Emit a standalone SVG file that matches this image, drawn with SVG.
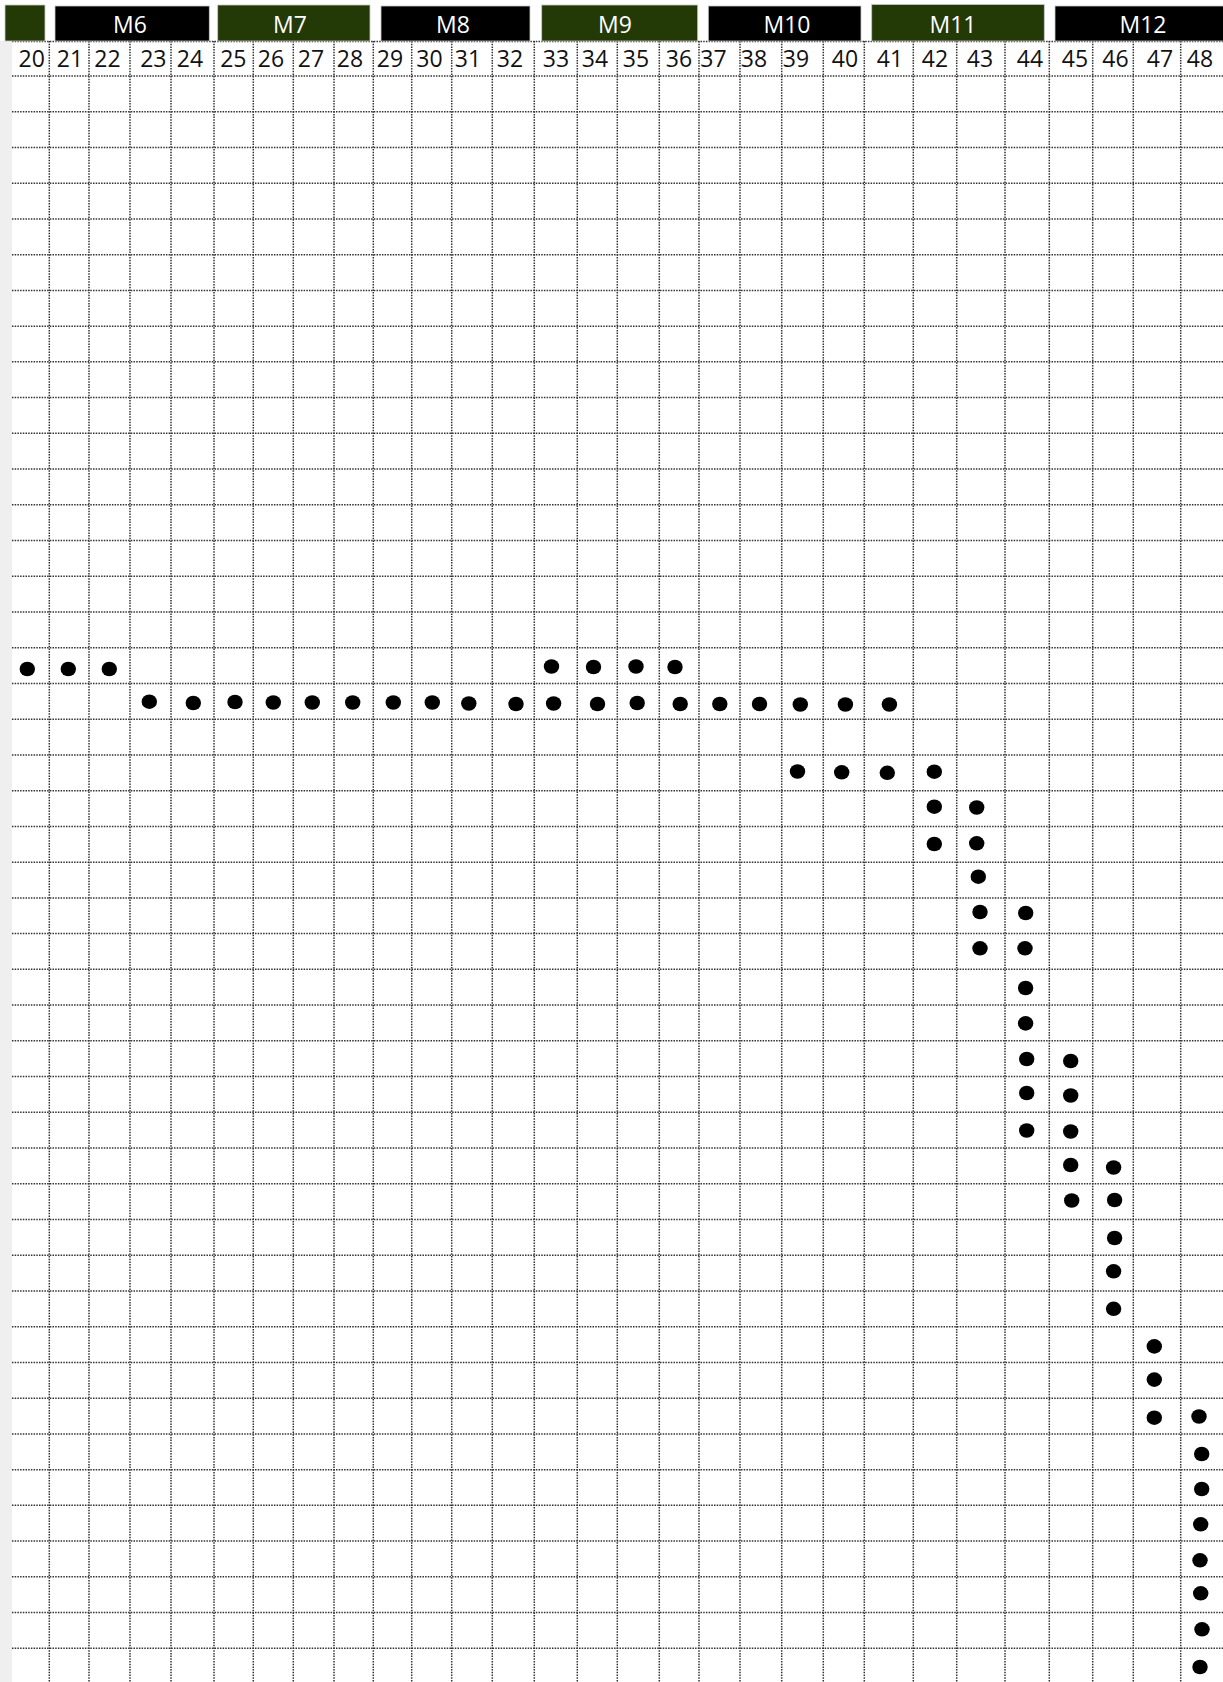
<svg xmlns="http://www.w3.org/2000/svg" width="1223" height="1682" viewBox="0 0 1223 1682">
<style>
.bg{fill:#ffffff}
.strip{fill:#efefef}
.black{fill:#000000}
.green{fill:#243a06}
.bar{stroke:#c8c8c8;stroke-width:0.8}
.mlabel{font-family:"Open Sans","DejaVu Sans",sans-serif;font-size:23px;fill:#ffffff;text-anchor:middle}
.num{font-family:"Open Sans","DejaVu Sans",sans-serif;font-size:23px;fill:#111111;text-anchor:middle}
.grid{fill:none;stroke:#333333;stroke-width:1.5;stroke-dasharray:1.5 1.2}
.dot{fill:#000000}
</style>
<rect class="bg" x="0" y="0" width="1223" height="1682"/>
<rect class="strip" x="0" y="41" width="12" height="1641"/>

<g id="grid">
<path class="grid" d="M12 41.5H1223 M12 76H1223 M12 111.73H1223 M12 147.47H1223 M12 183.2H1223 M12 218.94H1223 M12 254.67H1223 M12 290.4H1223 M12 326.14H1223 M12 361.87H1223 M12 397.61H1223 M12 433.34H1223 M12 469.07H1223 M12 504.81H1223 M12 540.54H1223 M12 576.28H1223 M12 612.01H1223 M12 647.74H1223 M12 683.48H1223 M12 719.21H1223 M12 754.95H1223 M12 790.68H1223 M12 826.41H1223 M12 862.15H1223 M12 897.88H1223 M12 933.62H1223 M12 969.35H1223 M12 1005.08H1223 M12 1040.82H1223 M12 1076.55H1223 M12 1112.29H1223 M12 1148.02H1223 M12 1183.75H1223 M12 1219.49H1223 M12 1255.22H1223 M12 1290.96H1223 M12 1326.69H1223 M12 1362.42H1223 M12 1398.16H1223 M12 1433.89H1223 M12 1469.63H1223 M12 1505.36H1223 M12 1541.09H1223 M12 1576.83H1223 M12 1612.56H1223 M12 1648.3H1223"/>
<path class="grid" d="M49.3 41V1682 M89 41V1682 M130 41V1682 M171 41V1682 M214 41V1682 M253.3 41V1682 M293.3 41V1682 M334 41V1682 M373.3 41V1682 M411.7 41V1682 M451.7 41V1682 M492.3 41V1682 M534.3 41V1682 M577.3 41V1682 M617.3 41V1682 M659.3 41V1682 M699 41V1682 M740 41V1682 M781.7 41V1682 M823.3 41V1682 M864.3 41V1682 M913.3 41V1682 M956.7 41V1682 M1005 41V1682 M1049.3 41V1682 M1092.7 41V1682 M1133.3 41V1682 M1180.7 41V1682"/>
</g>

<g id="header">
<g id="m5"><rect class="green bar" x="5" y="5" width="40" height="36"/></g>
<g id="m6"><rect class="black bar" x="55" y="6" width="154.3" height="35"/><text class="mlabel" x="130" y="33">M6</text></g>
<g id="m7"><rect class="green bar" x="217.7" y="5" width="152.3" height="36"/><text class="mlabel" x="290" y="33">M7</text></g>
<g id="m8"><rect class="black bar" x="381" y="6" width="149" height="35"/><text class="mlabel" x="453" y="33">M8</text></g>
<g id="m9"><rect class="green bar" x="541.7" y="5" width="156" height="36"/><text class="mlabel" x="615" y="33">M9</text></g>
<g id="m10"><rect class="black bar" x="708.3" y="6" width="152.7" height="35"/><text class="mlabel" x="787" y="33">M10</text></g>
<g id="m11"><rect class="green bar" x="871.7" y="4.5" width="172.6" height="36.5"/><text class="mlabel" x="953" y="33">M11</text></g>
<g id="m12"><rect class="black bar" x="1055" y="6" width="170" height="35"/><text class="mlabel" x="1143" y="33">M12</text></g>
</g>

<g id="numbers">
<text class="num" x="31.7" y="66.5">20</text>
<text class="num" x="70" y="66.5">21</text>
<text class="num" x="107.5" y="66.5">22</text>
<text class="num" x="153.3" y="66.5">23</text>
<text class="num" x="190" y="66.5">24</text>
<text class="num" x="233.3" y="66.5">25</text>
<text class="num" x="271" y="66.5">26</text>
<text class="num" x="311" y="66.5">27</text>
<text class="num" x="350" y="66.5">28</text>
<text class="num" x="390" y="66.5">29</text>
<text class="num" x="429.5" y="66.5">30</text>
<text class="num" x="468" y="66.5">31</text>
<text class="num" x="510" y="66.5">32</text>
<text class="num" x="556" y="66.5">33</text>
<text class="num" x="595" y="66.5">34</text>
<text class="num" x="636" y="66.5">35</text>
<text class="num" x="679" y="66.5">36</text>
<text class="num" x="713.5" y="66.5">37</text>
<text class="num" x="754" y="66.5">38</text>
<text class="num" x="796" y="66.5">39</text>
<text class="num" x="845" y="66.5">40</text>
<text class="num" x="890" y="66.5">41</text>
<text class="num" x="935" y="66.5">42</text>
<text class="num" x="980" y="66.5">43</text>
<text class="num" x="1030" y="66.5">44</text>
<text class="num" x="1075" y="66.5">45</text>
<text class="num" x="1115.5" y="66.5">46</text>
<text class="num" x="1160" y="66.5">47</text>
<text class="num" x="1200" y="66.5">48</text>
</g>

<g id="dots">
<ellipse class="dot" cx="27.3" cy="669" rx="7.7" ry="7.3"/>
<ellipse class="dot" cx="68.3" cy="669" rx="7.7" ry="7.3"/>
<ellipse class="dot" cx="109.3" cy="669" rx="7.7" ry="7.3"/>
<ellipse class="dot" cx="551.5" cy="666.5" rx="7.7" ry="7.3"/>
<ellipse class="dot" cx="593.5" cy="667" rx="7.7" ry="7.3"/>
<ellipse class="dot" cx="636" cy="666.5" rx="7.7" ry="7.3"/>
<ellipse class="dot" cx="675" cy="667" rx="7.7" ry="7.3"/>

<ellipse class="dot" cx="149.3" cy="701.7" rx="7.7" ry="7.3"/>
<ellipse class="dot" cx="193.3" cy="703" rx="7.7" ry="7.3"/>
<ellipse class="dot" cx="235" cy="702" rx="7.7" ry="7.3"/>
<ellipse class="dot" cx="273.3" cy="702.5" rx="7.7" ry="7.3"/>
<ellipse class="dot" cx="312.3" cy="702.5" rx="7.7" ry="7.3"/>
<ellipse class="dot" cx="352.7" cy="702.5" rx="7.7" ry="7.3"/>
<ellipse class="dot" cx="393.3" cy="702.5" rx="7.7" ry="7.3"/>
<ellipse class="dot" cx="432.3" cy="702.5" rx="7.7" ry="7.3"/>
<ellipse class="dot" cx="468.8" cy="703.5" rx="7.7" ry="7.3"/>
<ellipse class="dot" cx="516" cy="704" rx="7.7" ry="7.3"/>
<ellipse class="dot" cx="553.6" cy="703.5" rx="7.7" ry="7.3"/>
<ellipse class="dot" cx="597.5" cy="704" rx="7.7" ry="7.3"/>
<ellipse class="dot" cx="637.2" cy="703" rx="7.7" ry="7.3"/>
<ellipse class="dot" cx="680.2" cy="704" rx="7.7" ry="7.3"/>
<ellipse class="dot" cx="719.8" cy="704" rx="7.7" ry="7.3"/>
<ellipse class="dot" cx="759.5" cy="704" rx="7.7" ry="7.3"/>
<ellipse class="dot" cx="800.3" cy="704.5" rx="7.7" ry="7.3"/>
<ellipse class="dot" cx="845.4" cy="704.5" rx="7.7" ry="7.3"/>
<ellipse class="dot" cx="889.4" cy="704.5" rx="7.7" ry="7.3"/>

<ellipse class="dot" cx="797.5" cy="771.5" rx="7.7" ry="7.3"/>
<ellipse class="dot" cx="841.7" cy="772.3" rx="7.7" ry="7.3"/>
<ellipse class="dot" cx="887.3" cy="772.8" rx="7.7" ry="7.3"/>
<ellipse class="dot" cx="934.3" cy="771.7" rx="7.7" ry="7.3"/>

<ellipse class="dot" cx="934.3" cy="806.7" rx="7.7" ry="7.3"/>
<ellipse class="dot" cx="976.7" cy="807.5" rx="7.7" ry="7.3"/>
<ellipse class="dot" cx="934.3" cy="844" rx="7.7" ry="7.3"/>
<ellipse class="dot" cx="976.7" cy="843.3" rx="7.7" ry="7.3"/>
<ellipse class="dot" cx="978.3" cy="876.7" rx="7.7" ry="7.3"/>
<ellipse class="dot" cx="980" cy="912" rx="7.7" ry="7.3"/>
<ellipse class="dot" cx="1025.7" cy="913" rx="7.7" ry="7.3"/>
<ellipse class="dot" cx="980" cy="948.3" rx="7.7" ry="7.3"/>
<ellipse class="dot" cx="1025" cy="948.3" rx="7.7" ry="7.3"/>

<ellipse class="dot" cx="1025.6" cy="988" rx="7.7" ry="7.3"/>
<ellipse class="dot" cx="1025.6" cy="1023.4" rx="7.7" ry="7.3"/>
<ellipse class="dot" cx="1026.7" cy="1059" rx="7.7" ry="7.3"/>
<ellipse class="dot" cx="1070.7" cy="1061" rx="7.7" ry="7.3"/>
<ellipse class="dot" cx="1026.7" cy="1093" rx="7.7" ry="7.3"/>
<ellipse class="dot" cx="1070.7" cy="1095.5" rx="7.7" ry="7.3"/>
<ellipse class="dot" cx="1026.7" cy="1130.5" rx="7.7" ry="7.3"/>
<ellipse class="dot" cx="1070.7" cy="1131.5" rx="7.7" ry="7.3"/>
<ellipse class="dot" cx="1070.7" cy="1165" rx="7.7" ry="7.3"/>
<ellipse class="dot" cx="1113.6" cy="1167.5" rx="7.7" ry="7.3"/>
<ellipse class="dot" cx="1071.7" cy="1200.5" rx="7.7" ry="7.3"/>
<ellipse class="dot" cx="1114.6" cy="1200" rx="7.7" ry="7.3"/>
<ellipse class="dot" cx="1114.6" cy="1238" rx="7.7" ry="7.3"/>
<ellipse class="dot" cx="1113.6" cy="1271.3" rx="7.7" ry="7.3"/>
<ellipse class="dot" cx="1113.6" cy="1308.8" rx="7.7" ry="7.3"/>

<ellipse class="dot" cx="1154.3" cy="1346.4" rx="7.7" ry="7.3"/>
<ellipse class="dot" cx="1154.3" cy="1379.6" rx="7.7" ry="7.3"/>
<ellipse class="dot" cx="1154.3" cy="1417.7" rx="7.7" ry="7.3"/>
<ellipse class="dot" cx="1199" cy="1416.5" rx="7.7" ry="7.3"/>
<ellipse class="dot" cx="1201.7" cy="1454" rx="7.7" ry="7.3"/>
<ellipse class="dot" cx="1201.7" cy="1489" rx="7.7" ry="7.3"/>
<ellipse class="dot" cx="1200.7" cy="1524.3" rx="7.7" ry="7.3"/>
<ellipse class="dot" cx="1200" cy="1560.3" rx="7.7" ry="7.3"/>
<ellipse class="dot" cx="1200.7" cy="1593.3" rx="7.7" ry="7.3"/>
<ellipse class="dot" cx="1202" cy="1629.3" rx="7.7" ry="7.3"/>
<ellipse class="dot" cx="1200" cy="1667" rx="7.7" ry="7.3"/>
</g>
</svg>
